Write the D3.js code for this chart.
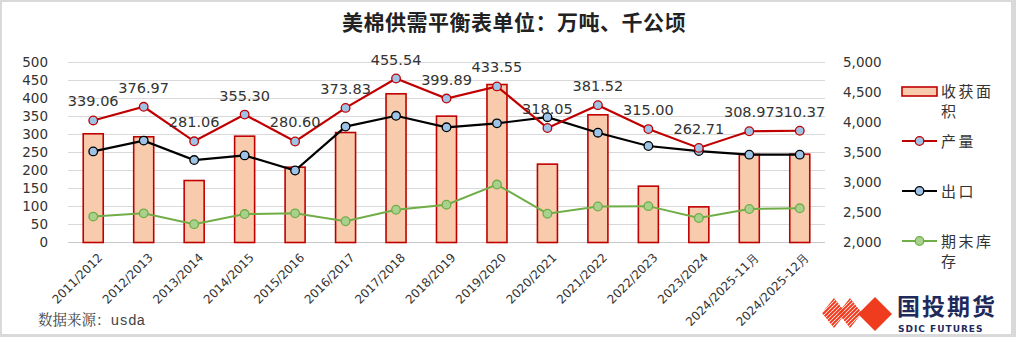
<!DOCTYPE html>
<html>
<head>
<meta charset="utf-8">
<script src="https://cdn.jsdelivr.net/npm/d3@7"></script>
<style>
  html, body { margin: 0; padding: 0; background: #fff; }
  svg { display: block; }
</style>
</head>
<body>
<svg id="chart" width="1016" height="337"></svg>
<script>
// US cotton supply & demand: production / exports / ending stocks (万吨), harvested area (千公顷)
const categories = ["2011/2012","2012/2013","2013/2014","2014/2015","2015/2016","2016/2017","2017/2018",
  "2018/2019","2019/2020","2020/2021","2021/2022","2022/2023","2023/2024","2024/2025-11月","2024/2025-12月"];
const harvestArea = [3812, 3762, 3033, 3772, 3255, 3833, 4478, 4106, 4633, 3306, 4128, 2939, 2594, 3467, 3472];
const production = [339.06, 376.97, 281.06, 355.30, 280.60, 373.83, 455.54, 399.89, 433.55, 318.05, 381.52, 315.00, 262.71, 308.97, 310.37];
const exports_ = [253, 283, 229, 242, 200, 322, 352, 320, 331, 348, 305, 268, 254, 244, 244];
const endingStocks = [72, 81, 51, 79, 81, 59, 91, 105, 161, 80, 100, 101, 68, 93, 95];
const leftTicks = [0, 50, 100, 150, 200, 250, 300, 350, 400, 450, 500];
const rightTicks = [2000, 2500, 3000, 3500, 4000, 4500, 5000];

const svg = d3.select("#chart");
const W = 1016, H = 337;

// frame
svg.append("rect").attr("width", W).attr("height", H).attr("fill", "#d9d9d9");
svg.append("rect").attr("x", 2).attr("y", 2).attr("width", 1009).attr("height", 332).attr("fill", "#fff");

const plot = { left: 68, right: 825, top: 62.5, bottom: 242.5 };

const x = d3.scaleBand().domain(categories).range([plot.left, plot.right]).paddingInner(0).paddingOuter(0);
const yL = d3.scaleLinear().domain([0, 500]).range([plot.bottom, plot.top]);
const yR = d3.scaleLinear().domain([2000, 5000]).range([plot.bottom, plot.top]);
const cx = d => x(d) + x.bandwidth() / 2;

const sans = "'DejaVu Sans', Verdana, sans-serif";
const cjk = "'Noto Sans CJK SC', 'Noto Sans', sans-serif";

// title
svg.append("text").attr("x", 514).attr("y", 30).attr("text-anchor", "middle")
  .attr("font-family", cjk).attr("font-size", 21).attr("font-weight", 700).attr("fill", "#222")
  .attr("letter-spacing", 0.5)
  .text("美棉供需平衡表单位：万吨、千公顷");

// gridlines
svg.append("g").selectAll("line").data(leftTicks).join("line")
  .attr("x1", plot.left).attr("x2", plot.right)
  .attr("y1", d => yL(d)).attr("y2", d => yL(d))
  .attr("stroke", d => d === 0 ? "#c8c8c8" : "#d9d9d9").attr("stroke-width", 1);

// left axis
const axL = svg.append("g").attr("transform", `translate(${plot.left},0)`)
  .call(d3.axisLeft(yL).tickValues(leftTicks).tickSize(0).tickPadding(20));
axL.select(".domain").remove();
axL.selectAll("text").attr("font-family", sans).attr("font-size", 13.5).attr("fill", "#333");

// right axis
const axR = svg.append("g").attr("transform", `translate(${plot.right},0)`)
  .call(d3.axisRight(yR).tickValues(rightTicks).tickSize(0).tickPadding(18).tickFormat(d3.format(",")));
axR.select(".domain").remove();
axR.selectAll("text").attr("font-family", sans).attr("font-size", 13.5).attr("fill", "#333");

// x axis labels
svg.append("g").selectAll("text").data(categories).join("text")
  .attr("transform", d => `translate(${cx(d) + 4},${plot.bottom + 10}) rotate(-45)`)
  .attr("text-anchor", "end").attr("dy", "0.7em")
  .attr("font-family", sans).attr("font-size", 12).attr("fill", "#333")
  .text(d => d);

// harvested area bars
const barW = 20;
svg.append("g").selectAll("rect").data(categories).join("rect")
  .attr("x", d => cx(d) - barW / 2)
  .attr("y", (d, i) => yR(harvestArea[i]))
  .attr("width", barW)
  .attr("height", (d, i) => plot.bottom - yR(harvestArea[i]))
  .attr("fill", "#f8cbad").attr("stroke", "#c00000").attr("stroke-width", 1.6);

// line series
function series(values, lineColor, markerFill, markerStroke, width) {
  const line = d3.line().x((d, i) => cx(categories[i])).y(d => yL(d));
  svg.append("path").datum(values).attr("d", line)
    .attr("fill", "none").attr("stroke", lineColor).attr("stroke-width", width);
  svg.append("g").selectAll("circle").data(values).join("circle")
    .attr("cx", (d, i) => cx(categories[i])).attr("cy", d => yL(d)).attr("r", 4.3)
    .attr("fill", markerFill).attr("stroke", markerStroke).attr("stroke-width", 1.3);
}
series(endingStocks, "#70ad47", "#a9d18e", "#70ad47", 2);
series(exports_, "#000", "#9dc3e6", "#000", 2.2);
series(production, "#c00000", "#9dc3e6", "#c00000", 2.2);

// production value labels
svg.append("g").selectAll("text").data(production).join("text")
  .attr("x", (d, i) => cx(categories[i]))
  .attr("y", d => yL(d) - 14)
  .attr("text-anchor", "middle")
  .attr("font-family", sans).attr("font-size", 14.5).attr("fill", "#333")
  .text(d => d.toFixed(2));

// legend
const lg = svg.append("g").attr("font-family", cjk).attr("font-size", 15).attr("fill", "#333");
const lx = 902, lw = 35, tx = 941;
lg.append("rect").attr("x", lx).attr("y", 87).attr("width", lw).attr("height", 9)
  .attr("fill", "#f8cbad").attr("stroke", "#c00000").attr("stroke-width", 1.6);
function legText(lines, y0) {
  const t = lg.append("text").attr("x", tx).attr("y", y0).attr("letter-spacing", 2.5);
  lines.forEach((s, k) => t.append("tspan").attr("x", tx).attr("dy", k ? 20 : 0).text(s));
}
legText(["收获面", "积"], 97);
function legLine(y, col, fill, stroke) {
  lg.append("line").attr("x1", lx).attr("x2", lx + lw).attr("y1", y).attr("y2", y)
    .attr("stroke", col).attr("stroke-width", 2);
  lg.append("circle").attr("cx", lx + lw / 2).attr("cy", y).attr("r", 4.3)
    .attr("fill", fill).attr("stroke", stroke).attr("stroke-width", 1.3);
}
legLine(141, "#c00000", "#9dc3e6", "#c00000");
legText(["产量"], 146.5);
legLine(191, "#000", "#9dc3e6", "#000");
legText(["出口"], 196.5);
legLine(241, "#70ad47", "#a9d18e", "#70ad47");
legText(["期末库", "存"], 246.5);

// source note
const src = svg.append("text").attr("x", 38).attr("y", 325).attr("font-size", 14.5).attr("fill", "#444");
src.append("tspan").attr("font-family", "'Noto Serif CJK SC', 'Noto Sans CJK SC', serif").text("数据来源：");
src.append("tspan").attr("font-family", "'Liberation Mono', 'DejaVu Sans Mono', monospace").text("usda");

// logo
const logo = svg.append("g");
const defs = svg.append("defs");
[[834, 313], [850, 313]].forEach(([mx, my], k) => {
  const id = "stripeClip" + k;
  defs.append("clipPath").attr("id", id).append("path")
    .attr("d", `M${mx},${my - 15}L${mx + 12},${my}L${mx},${my + 15}L${mx - 12},${my}Z`);
  const g = logo.append("g").attr("clip-path", `url(#${id})`);
  d3.range(-30, 31, 4).forEach(o => {
    g.append("line").attr("x1", mx - 20 + o).attr("y1", my + 20).attr("x2", mx + 20 + o).attr("y2", my - 20)
      .attr("stroke", "#f03c1e").attr("stroke-width", 2);
  });
});
logo.append("path").attr("d", "M875,297L892,314L875,331L858,314Z").attr("fill", "#f03c1e");
logo.append("text").attr("x", 897).attr("y", 315).attr("font-family", cjk).attr("font-weight", 700)
  .attr("font-size", 23).attr("fill", "#1f2a5c").attr("letter-spacing", 2).text("国投期货");
logo.append("text").attr("x", 898).attr("y", 331.5).attr("font-family", sans).attr("font-weight", 700)
  .attr("font-size", 9).attr("fill", "#1f2a5c").attr("letter-spacing", 1).text("SDIC FUTURES");
</script>
</body>
</html>
